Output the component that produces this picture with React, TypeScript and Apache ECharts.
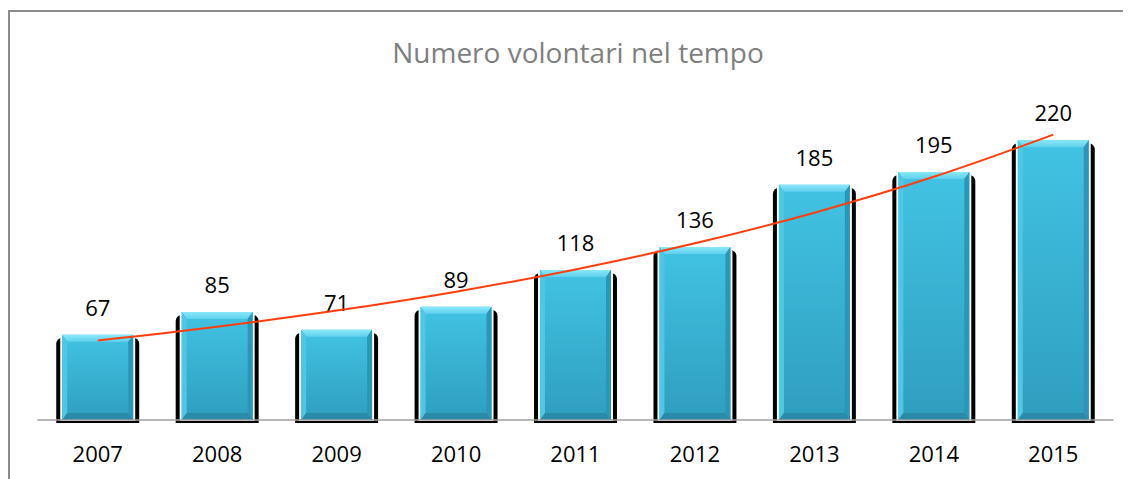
import React, { useEffect, useRef } from "react";
import * as echarts from "echarts";

const years = ["2007", "2008", "2009", "2010", "2011", "2012", "2013", "2014", "2015"];
const volunteers = [67, 85, 71, 89, 118, 136, 185, 195, 220];
// exponential trend line values at each year
const trendValues = [62.5, 73.3, 86.0, 100.9, 118.4, 138.9, 163.0, 191.2, 224.4];
const chartTitle = "Numero volontari nel tempo";

const FONT = "'Open Sans', sans-serif";

export default function App() {
  const ref = useRef<HTMLDivElement>(null);
  useEffect(() => {
    if (!ref.current) return;
    const chart = echarts.init(ref.current, null, { renderer: "svg" });
    const renderItem = (params: any, api: any) => {
      const i = api.value(0);
      const v = api.value(1);
      const p = api.coord([i, v]);
      const cx = p[0];
      const top = p[1];
      const base = api.coord([i, 0])[1];
      const band = api.size([1, 0])[0];
      const hw = band * 0.297;
      const b = 7;
      const sb = 5;
      const L = cx - hw;
      const R = cx + hw;
      return {
        type: "group",
        children: [
          {
            type: "rect",
            shape: { x: L - 6, y: top + 3, width: 2 * hw + 12, height: base - top, r: [6, 6, 0, 0] },
            style: { fill: "#000" },
          },
          {
            type: "rect",
            shape: { x: L - 2, y: top - 1, width: 2 * hw + 4, height: base - top + 2 },
            style: { fill: "#fff" },
          },
          {
            type: "rect",
            shape: { x: L, y: top, width: 2 * hw, height: base - top },
            style: {
              fill: new echarts.graphic.LinearGradient(0, 0, 0, 1, [
                { offset: 0, color: "#42c3e3" },
                { offset: 1, color: "#2f9ebf" },
              ]),
            },
          },
          {
            type: "polygon",
            shape: { points: [[L, top], [R, top], [R - sb, top + b], [L + sb, top + b]] },
            style: {
              fill: new echarts.graphic.LinearGradient(0, 0, 0, 1, [
                { offset: 0, color: "#8be8f8" },
                { offset: 1, color: "#5fd0ee" },
              ]),
            },
          },
          {
            type: "polygon",
            shape: { points: [[L, top], [L + sb, top + b], [L + sb, base - b], [L, base]] },
            style: { fill: "#4fc6e4" },
          },
          {
            type: "polygon",
            shape: { points: [[R, top], [R - sb, top + b], [R - sb, base - b], [R, base]] },
            style: { fill: "#2a97b8" },
          },
          {
            type: "polygon",
            shape: { points: [[L, base], [L + sb, base - b], [R - sb, base - b], [R, base]] },
            style: { fill: "#2a8aa8" },
          },
          {
            type: "text",
            style: {
              text: String(v),
              x: cx,
              y: top - 17,
              textAlign: "center",
              textVerticalAlign: "bottom",
              fontSize: 22,
              fontFamily: FONT,
              fill: "#000",
            },
          },
        ],
      };
    };
    chart.setOption({
      animation: false,
      grid: { left: 30, right: 18, top: 94, bottom: 59 },
      graphic: [
        {
          type: "rect",
          shape: { x: 1, y: 3, width: 1300, height: 700 },
          style: { fill: "none", stroke: "#8c8c8c", lineWidth: 2 },
          silent: true,
          z: 0,
        },
        {
          type: "text",
          style: {
            text: chartTitle,
            x: 570,
            y: 44,
            textAlign: "center",
            textVerticalAlign: "middle",
            fontSize: 28,
            fontFamily: FONT,
            fill: "#7f7f7f",
          },
        },
      ],
      xAxis: {
        type: "category",
        data: years,
        z: 10,
        axisLine: { lineStyle: { color: "#a0a0a0", width: 1.5 } },
        axisTick: { show: false },
        axisLabel: { fontSize: 22, fontFamily: FONT, color: "#000", margin: 22 },
      },
      yAxis: {
        type: "value",
        min: 0,
        max: 250,
        show: false,
        splitLine: { show: false },
      },
      series: [
        {
          type: "custom",
          renderItem,
          data: volunteers.map((v, i) => [i, v]),
          encode: { x: 0, y: 1 },
          z: 2,
        },
        {
          type: "line",
          data: trendValues,
          smooth: 0.4,
          symbol: "none",
          lineStyle: { color: "#ff3d0d", width: 2 },
          z: 5,
        },
      ],
    });
    return () => chart.dispose();
  }, []);
  return <div ref={ref} style={{ width: 1123, height: 471 }} />;
}
